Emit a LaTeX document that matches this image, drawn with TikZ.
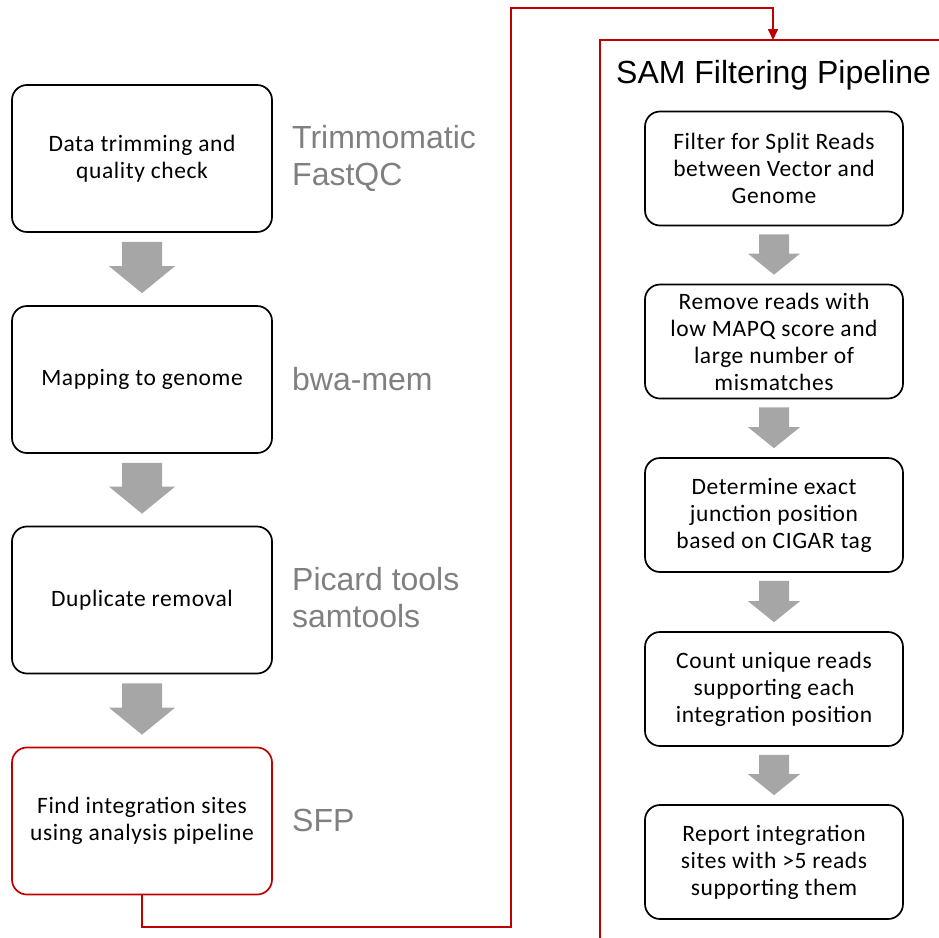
\documentclass[tikz,border=0pt]{standalone}
\usepackage{fontspec}
\setmainfont{Carlito}[LetterSpace=2.5]
\newfontfamily\labelfont{Liberation Sans}
\usetikzlibrary{calc,arrows.meta}

\definecolor{flowred}{RGB}{192,0,0}
\definecolor{flowgray}{RGB}{166,166,166}
\definecolor{toolgray}{RGB}{128,128,128}

\tikzset{
  stepbox/.style={draw=black, line width=1.7pt, rounded corners=15pt, fill=white,
    align=center, inner sep=0pt, font=\fontsize{23.5}{27}\selectfont},
  leftbox/.style={stepbox, minimum width=260pt, minimum height=147pt},
  rightbox/.style={stepbox, minimum width=258pt, minimum height=114pt},
  toollabel/.style={anchor=west, align=left, inner sep=0pt, text=toolgray,
    font=\labelfont\fontsize{32}{37}\selectfont},
  redline/.style={draw=flowred, line width=1.7pt},
  blockarrow/.style={fill=flowgray}
}

% thick gray block arrow between two stacked nodes
% #1 upper node, #2 lower node, #3 shaft half width, #4 head half width,
% #5 head length, #6 gap below upper node, #7 gap above lower node
\newcommand{\grayarrow}[7]{%
  \fill[blockarrow] let \p1=(#1.south), \p2=(#2.north) in
    (\x1-#3,\y1-#6) -- (\x1+#3,\y1-#6) -- (\x1+#3,\y2+#7+#5) --
    (\x1+#4,\y2+#7+#5) -- (\x1,\y2+#7) -- (\x1-#4,\y2+#7+#5) --
    (\x1-#3,\y2+#7+#5) -- cycle;}

\begin{document}
\begin{tikzpicture}[x=1pt, y=-1pt]
  \useasboundingbox (0,0) rectangle (939,937);
  \clip (0,0) rectangle (939,937);

  % left column: main workflow
  \node[leftbox] (b1) at (142,158.5) {Data trimming and\\quality check};
  \node[leftbox] (b2) at (142,379.5) {Mapping to genome};
  \node[leftbox] (b3) at (142,600) {Duplicate removal};
  \node[leftbox, draw=flowred] (b4) at (142,821) {Find integration sites\\using analysis pipeline};

  \grayarrow{b1}{b2}{20}{33}{27}{9}{12}
  \grayarrow{b2}{b3}{20}{33}{27}{9}{12}
  \grayarrow{b3}{b4}{20}{33}{27}{9}{12}

  % tools used at each step
  \node[toollabel] (t1) at (292,158) {Trimmomatic\\FastQC};
  \node[toollabel] (t2) at (292,379) {bwa-mem};
  \node[toollabel] (t3) at (292,598) {Picard tools\\samtools};
  \node[toollabel] (t4) at (292,820) {SFP};

  % SAM filtering pipeline panel
  \draw[redline] (600,960) -- (600,40) -- (960,40);
  \node[anchor=west, inner sep=0pt, font=\labelfont\fontsize{32}{36}\selectfont]
    (title) at (616,75) {SAM Filtering Pipeline};

  \node[rightbox] (r1) at (774,168.5) {Filter for Split Reads\\between Vector and\\Genome};
  \node[rightbox] (r2) at (774,341.5) {Remove reads with\\low MAPQ score and\\large number of\\mismatches};
  \node[rightbox] (r3) at (774,515) {Determine exact\\junction position\\based on CIGAR tag};
  \node[rightbox] (r4) at (774,689) {Count unique reads\\supporting each\\integration position};
  \node[rightbox] (r5) at (774,862) {Report integration\\sites with >5 reads\\supporting them};

  \grayarrow{r1}{r2}{15}{26}{21}{8}{9}
  \grayarrow{r2}{r3}{15}{26}{21}{8}{9}
  \grayarrow{r3}{r4}{15}{26}{21}{8}{9}
  \grayarrow{r4}{r5}{15}{26}{21}{8}{9}

  % hand-off from the main workflow into the panel
  \coordinate (low) at (511,927);
  \coordinate (high) at (511,8);
  \coordinate (entry) at (773,40);
  \draw[redline, -{Triangle[width=10pt,length=11pt]}]
    (b4.south) |- (low) -- (high) -| (entry);
\end{tikzpicture}
\end{document}
